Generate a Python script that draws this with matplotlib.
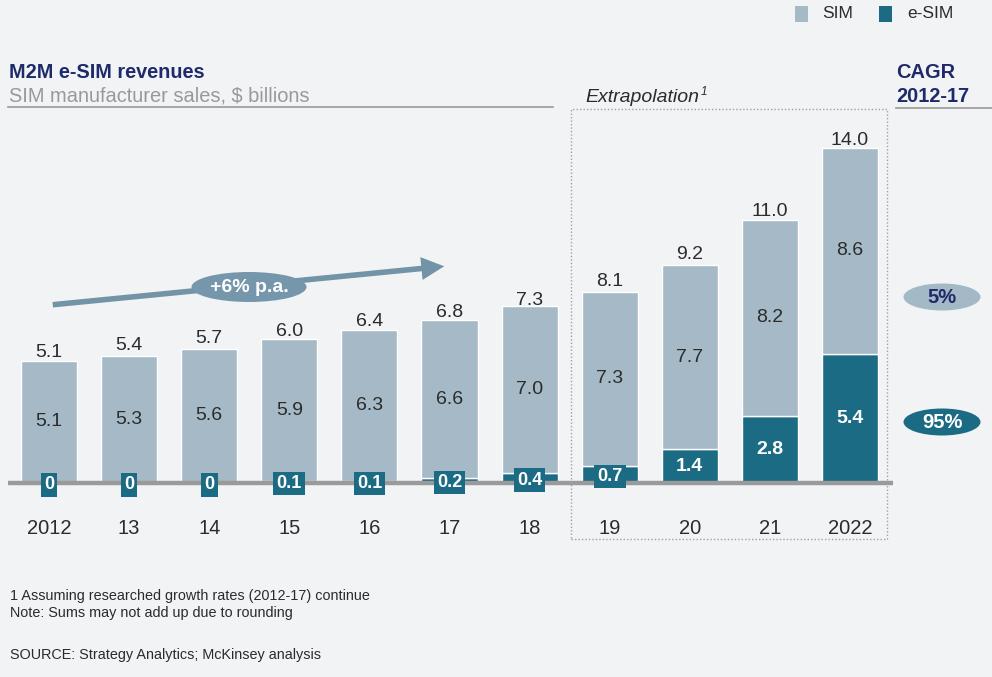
import matplotlib
matplotlib.use("Agg")
import matplotlib.pyplot as plt
from matplotlib.patches import Rectangle, Ellipse, FancyArrowPatch
from matplotlib.lines import Line2D

plt.rcParams['font.family'] = ['Liberation Sans', 'DejaVu Sans']

# data
years = ['2012', '13', '14', '15', '16', '17', '18', '19', '20', '21', '2022']
esim = [0, 0, 0, 0.1, 0.1, 0.2, 0.4, 0.7, 1.4, 2.8, 5.4]
sim = [5.1, 5.3, 5.6, 5.9, 6.3, 6.6, 7.0, 7.3, 7.7, 8.2, 8.6]
totals = [5.1, 5.4, 5.7, 6.0, 6.4, 6.8, 7.3, 8.1, 9.2, 11.0, 14.0]
esim_labels = ['0', '0', '0', '0.1', '0.1', '0.2', '0.4', '0.7', '1.4', '2.8', '5.4']
cagr_sim = '5%'
cagr_esim = '95%'

BG = '#F2F3F5'
SIM_C = '#A5BAC6'
ESIM_C = '#1C6B85'
NAVY = '#1F2A6B'
GREY = '#999999'
DARK = '#2B2B2B'

W, H = 992, 677
fig = plt.figure(figsize=(W / 100, H / 100), dpi=100, facecolor=BG)


def px(x, y):
    # pixel position (from top-left) -> figure fraction
    return x / W, 1 - y / H


# axes spanning whole figure; x = bar index, y = value
ax = fig.add_axes([0, 0, 1, 1])
ax.set_facecolor(BG)
x0, dx = 49, 80.1      # pixel centre of first bar, spacing
y0, dy = 483, 23.93    # pixel of baseline, pixels per unit
ax.set_xlim(-x0 / dx, (W - x0) / dx)
ax.set_ylim((y0 - H) / dy, y0 / dy)
ax.axis('off')

xs = list(range(len(years)))
bw = 0.70
ax.bar(xs, esim, width=bw, color=ESIM_C, edgecolor='white', linewidth=1, zorder=2)
ax.bar(xs, sim, bottom=esim, width=bw, color=SIM_C, edgecolor='white', linewidth=1, zorder=2)

# baseline
ax.plot([-0.51, 10.54], [0, 0], color='#9A9A9A', lw=3.2, zorder=3, solid_capstyle='butt')

for i in xs:
    # totals
    ax.annotate(f'{totals[i]:.1f}', (i, totals[i]), xytext=(0, 2.5), textcoords='offset points',
                ha='center', va='baseline', fontsize=14, color=DARK)
    # SIM values
    ax.text(i, esim[i] + sim[i] / 2, f'{sim[i]:.1f}', ha='center', va='center',
            fontsize=14, color=DARK, zorder=4)
    # e-SIM values
    if esim[i] < 1:
        ax.text(i, esim[i] * 0.5 - 0.08, esim_labels[i], ha='center', va='center',
                fontsize=13, color='white', fontweight='bold', zorder=5,
                bbox=dict(boxstyle='square,pad=0.18', facecolor=ESIM_C, edgecolor='none'))
    else:
        ax.text(i, esim[i] / 2, esim_labels[i], ha='center', va='center',
                fontsize=14, color='white', fontweight='bold', zorder=5)
    # year labels
    ax.text(i, (y0 - 528) / dy, years[i], ha='center', va='center', fontsize=14.5, color=DARK)

# growth arrow
arr = FancyArrowPatch(px(50, 305), px(447, 266), transform=fig.transFigure,
                      arrowstyle='-|>,head_length=10,head_width=5', mutation_scale=1,
                      color='#7393A7', lw=4, joinstyle='miter', capstyle='butt')
fig.add_artist(arr)
e = Ellipse(px(249, 287), 115 / W, 30 / H, transform=fig.transFigure,
            facecolor='#7696AB', edgecolor='none')
fig.add_artist(e)
fig.text(*px(249, 287), '+6% p.a.', ha='center', va='center', fontsize=14,
         color='white', fontweight='bold')

# CAGR ovals
for yy, fc, tc, lab in [(297, '#A3B9C5', NAVY, cagr_sim), (422, ESIM_C, 'white', cagr_esim)]:
    fig.add_artist(Ellipse(px(942, yy), 77 / W, 27 / H, transform=fig.transFigure,
                           facecolor=fc, edgecolor='none'))
    fig.text(*px(942, yy), lab, ha='center', va='center', fontsize=14.5,
             color=tc, fontweight='bold')

# extrapolation box
bx0, by0 = px(571, 539)
bx1, by1 = px(887, 109)
fig.add_artist(Rectangle((bx0, by0), bx1 - bx0, by1 - by0, transform=fig.transFigure,
                         fill=False, edgecolor='#A0A0A0', lw=1, linestyle=(0, (1, 1.5))))
fig.text(*px(585, 97), 'Extrapolation', ha='left', va='center', fontsize=14,
         style='italic', color=DARK)
fig.text(*px(701, 92), '1', ha='left', va='center', fontsize=8.5, style='italic', color=DARK)

# header texts
fig.text(*px(9, 72), 'M2M e-SIM revenues', ha='left', va='center', fontsize=14.3,
         color=NAVY, fontweight='bold')
fig.text(*px(9, 96), 'SIM manufacturer sales, $ billions', ha='left', va='center',
         fontsize=14.4, color=GREY)
fig.add_artist(Line2D([px(8, 0)[0], px(553, 0)[0]], [px(0, 107)[1]] * 2,
                      transform=fig.transFigure, color='#999999', lw=1.2))
fig.text(*px(896, 72), 'CAGR', ha='left', va='center', fontsize=14.4, color=NAVY, fontweight='bold')
fig.text(*px(896, 96), '2012-17', ha='left', va='center', fontsize=14.4, color=NAVY, fontweight='bold')
fig.add_artist(Line2D([px(896, 0)[0], 1], [px(0, 108)[1]] * 2,
                      transform=fig.transFigure, color='#999999', lw=1.2))

# legend
for sx, tx, c, lab in [(795, 822, SIM_C, 'SIM'), (879, 907, ESIM_C, 'e-SIM')]:
    lx, ly = px(sx, 22)
    fig.add_artist(Rectangle((lx, ly), 13 / W, 16 / H, transform=fig.transFigure,
                             facecolor=c, edgecolor='none'))
    fig.text(*px(tx, 14), lab, ha='left', va='center', fontsize=12.5, color=DARK)

# footnotes
fig.text(*px(10, 596), '1 Assuming researched growth rates (2012-17) continue', ha='left',
         va='center', fontsize=10.4, color=DARK)
fig.text(*px(10, 613), 'Note: Sums may not add up due to rounding', ha='left',
         va='center', fontsize=10.4, color=DARK)
fig.text(*px(10, 655), 'SOURCE: Strategy Analytics; McKinsey analysis', ha='left',
         va='center', fontsize=10.4, color=DARK)

fig.savefig('out.png', dpi=100, facecolor=BG)
